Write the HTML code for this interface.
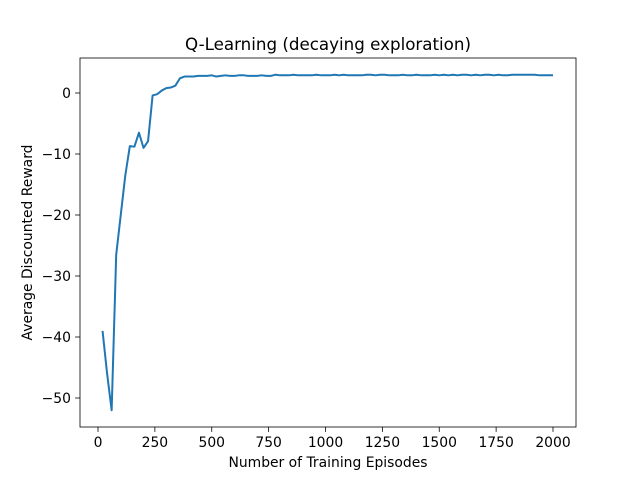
<!DOCTYPE html>
<html><head><meta charset="utf-8"><style>
html,body{margin:0;padding:0;background:#fff;}
svg{display:block;font-family:"DejaVu Sans","Liberation Sans",sans-serif;}
</style></head><body>
<svg id="chart" width="640" height="480"></svg>
<script>
const episodes = [];
for (let e = 20; e <= 2000; e += 20) episodes.push(e);
const rewards = [-39,-46,-52,-26.5,-20,-13.5,-8.7,-8.8,-6.5,-9.0,-7.9,-0.4,-0.2,0.4,0.8,0.9,1.2,2.4,2.7,2.7,
2.7,2.8,2.8,2.8,2.9,2.7,2.8,2.9,2.8,2.8,2.9,2.9,2.8,2.8,2.8,2.9,2.8,2.8,3.0,2.9,
2.9,2.9,3.0,2.9,2.9,2.9,2.9,3.0,2.9,2.9,2.9,3.0,2.9,3.0,2.9,2.9,2.9,2.9,3.0,3.0,
2.9,3.0,3.0,2.9,2.9,2.9,3.0,2.9,2.9,3.0,2.9,2.9,2.9,3.0,2.9,3.0,2.9,3.0,2.9,3.0,
3.0,2.9,3.0,2.9,3.0,3.0,2.9,3.0,2.9,2.9,3.0,3.0,3.0,3.0,3.0,3.0,2.9,2.9,2.9,2.9];
const xTicks = [0,250,500,750,1000,1250,1500,1750,2000];
const yTicks = [0,-10,-20,-30,-40,-50];
const yTickLabels = ["0","\u221210","\u221220","\u221230","\u221240","\u221250"];

const L=80,R=576,T=58,B=427;
const xs = v => 98 + (v-0)*(553-98)/2000;
const ys = v => 93 + (0 - v)*(398-93)/50;
const svg = document.getElementById('chart');
const NS = 'http://www.w3.org/2000/svg';
function mk(tag, attrs, parent){ const el=document.createElementNS(NS,tag); for(const k in attrs) el.setAttribute(k,attrs[k]); (parent||svg).appendChild(el); return el; }

const frame = mk('rect',{x:L,y:T,width:R-L,height:B-T,fill:'none',stroke:'#000','stroke-width':0.8});



const d = episodes.map((e,i)=>(i?'L':'M')+xs(e).toFixed(2)+' '+ys(rewards[i]).toFixed(2)).join(' ');
const line = mk('path',{d:d,fill:'none',stroke:'#1f77b4','stroke-width':2,'stroke-linejoin':'round'});



xTicks.forEach(t=>{
  const x=xs(t);
  const tk=mk('line',{x1:x,x2:x,y1:B,y2:B+4.9,stroke:'#000','stroke-width':0.8});
  
  
  const tx=mk('text',{x:x,y:B+20,'font-size':13.9,'text-anchor':'middle',fill:'#000'});
  tx.textContent=t;
  
  
});
yTicks.forEach((t,i)=>{
  const y=ys(t);
  const tk=mk('line',{x1:L-4.9,x2:L,y1:y,y2:y,stroke:'#000','stroke-width':0.8});
  
  
  const tx=mk('text',{x:L-9,y:y+5,'font-size':13.9,'text-anchor':'end',fill:'#000'});
  tx.textContent=yTickLabels[i];
  
  
});
const title=mk('text',{x:(L+R)/2,y:50,'font-size':16.7,'text-anchor':'middle',fill:'#000'});
title.textContent='Q-Learning (decaying exploration)';


const xl=mk('text',{x:(L+R)/2,y:467,'font-size':13.9,'text-anchor':'middle',fill:'#000'});
xl.textContent='Number of Training Episodes';


const yl=mk('text',{x:32,y:(T+B)/2,'font-size':13.9,'text-anchor':'middle',fill:'#000',transform:'rotate(-90 32 '+((T+B)/2)+')'});
yl.textContent='Average Discounted Reward';


</script>
</body></html>
